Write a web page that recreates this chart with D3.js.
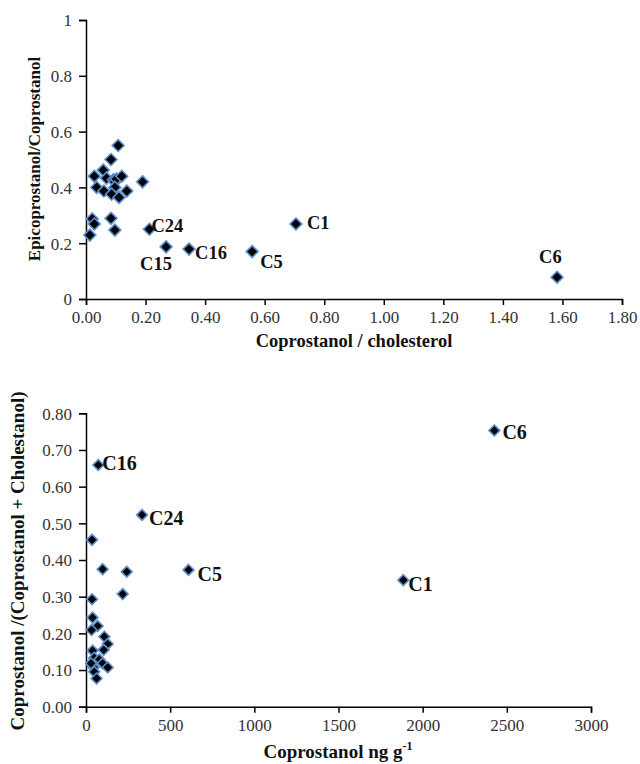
<!DOCTYPE html>
<html>
<head>
<meta charset="utf-8">
<script src="https://cdn.jsdelivr.net/npm/d3@7"></script>
<style>
  body { margin: 0; background: #fff; }
  svg { display: block; }
  svg text { font-family: "Liberation Serif", "Times New Roman", serif; }
  .tick text { font-size: 17px; fill: #333; }
  .tick line, .domain { stroke: #000; stroke-width: 1.5; }
</style>
</head>
<body>
<svg id="chart" width="640" height="764"></svg>
<script>
// top panel: coprostanol/cholesterol vs epicoprostanol/coprostanol
const topX = [0.108, 0.084, 0.058, 0.028, 0.069, 0.092, 0.097, 0.102, 0.12, 0.19, 0.036, 0.06, 0.097,
  0.086, 0.137, 0.111, 0.021, 0.028, 0.013, 0.084, 0.097, 0.213, 0.269, 0.346, 0.558, 0.705, 1.582];
const topY = [0.55, 0.50, 0.462, 0.44, 0.433, 0.427, 0.42, 0.43, 0.44, 0.42, 0.40, 0.387, 0.40,
  0.376, 0.387, 0.364, 0.287, 0.269, 0.229, 0.289, 0.247, 0.25, 0.187, 0.179, 0.17, 0.269, 0.078];
const topLabels = ['', '', '', '', '', '', '', '', '', '', '', '', '',
  '', '', '', '', '', '', '', '', 'C24', 'C15', 'C16', 'C5', 'C1', 'C6'];
const topXTicks = [0, 0.2, 0.4, 0.6, 0.8, 1.0, 1.2, 1.4, 1.6, 1.8];
const topYTicks = [0, 0.2, 0.4, 0.6, 0.8, 1];

// bottom panel: coprostanol ng/g vs coprostanol/(coprostanol + cholestanol)
const botX = [73, 333, 36, 99, 242, 609, 218, 36, 39, 69, 33, 109, 129, 105, 39, 49, 79, 99, 129,
  45, 49, 63, 30, 1885, 2426];
const botY = [0.659, 0.523, 0.455, 0.375, 0.368, 0.373, 0.307, 0.293, 0.243, 0.22, 0.209, 0.191,
  0.171, 0.155, 0.153, 0.133, 0.129, 0.118, 0.107, 0.107, 0.095, 0.077, 0.118, 0.345, 0.753];
const botLabels = ['C16', 'C24', '', '', '', 'C5', '', '', '', '', '', '', '', '', '', '', '', '',
  '', '', '', '', '', 'C1', 'C6'];
const botXTicks = [0, 500, 1000, 1500, 2000, 2500, 3000];
const botYTicks = [0, 0.1, 0.2, 0.3, 0.4, 0.5, 0.6, 0.7, 0.8];

// label offsets (px) relative to the marker
const topLabelPos = { C24: [2, -4], C15: [-26, 17], C16: [6, 3], C5: [8, 10], C1: [11, -1], C6: [-18, -21] };
const botLabelPos = { C16: [4, -2], C24: [7, 3], C5: [9, 4], C1: [5, 4], C6: [8, 1] };

const svg = d3.select('#chart');
const diamond = d3.symbol().type(d3.symbolDiamond2);

function panel(cfg) {
  const x = d3.scaleLinear().domain(cfg.xDomain).range([86, cfg.right]);
  const y = d3.scaleLinear().domain(cfg.yDomain).range([cfg.bottom, cfg.top]);
  const g = svg.append('g');

  g.append('g')
    .attr('transform', `translate(0,${cfg.bottom})`)
    .call(d3.axisBottom(x).tickValues(cfg.xTicks).tickFormat(cfg.xFmt).tickSizeOuter(0).tickSize(6))
    .call(a => a.attr('font-family', null))
    .call(a => a.selectAll('.tick text').attr('y', 12).attr('dy', '0.71em'));

  g.append('g')
    .attr('transform', 'translate(86,0)')
    .call(d3.axisLeft(y).tickValues(cfg.yTicks).tickFormat(cfg.yFmt).tickSizeOuter(0).tickSize(7))
    .call(a => a.attr('font-family', null))
    .call(a => a.selectAll('.tick text').attr('dy', '0.35em').attr('x', -14));

  const pts = cfg.xs.map((v, i) => ({ x: v, y: cfg.ys[i], label: cfg.labels[i] }));

  g.selectAll('path.pt')
    .data(pts)
    .join('path')
    .attr('class', 'pt')
    .attr('transform', d => `translate(${x(d.x)},${y(d.y)})`)
    .attr('d', diamond.size(cfg.markSize))
    .attr('fill', '#000')
    .attr('stroke', '#5b8fcf')
    .attr('stroke-width', 1.6);

  g.selectAll('text.lbl')
    .data(pts.filter(d => d.label))
    .join('text')
    .attr('class', 'lbl')
    .attr('x', d => x(d.x) + cfg.labelPos[d.label][0])
    .attr('y', d => y(d.y) + cfg.labelPos[d.label][1])
    .attr('dy', '0.35em')
    .attr('font-size', cfg.labelSize)
    .attr('font-weight', 'bold')
    .attr('fill', '#111')
    .text(d => d.label);

  return { x, y, g };
}

const p1 = panel({
  xDomain: [0, 1.8], yDomain: [0, 1], right: 622, top: 20, bottom: 299,
  xTicks: topXTicks, yTicks: topYTicks,
  xFmt: d3.format('.2f'), yFmt: d => d3.format('')(+d.toFixed(1)),
  xs: topX, ys: topY, labels: topLabels, labelPos: topLabelPos,
  markSize: 90, labelSize: 18.5
});

p1.g.append('text')
  .attr('x', 354).attr('y', 347)
  .attr('text-anchor', 'middle')
  .attr('font-size', 18.5).attr('font-weight', 'bold').attr('fill', '#111')
  .text('Coprostanol / cholesterol');

p1.g.append('text')
  .attr('transform', 'translate(40,159) rotate(-90)')
  .attr('text-anchor', 'middle')
  .attr('font-size', 17).attr('font-weight', 'bold').attr('fill', '#111')
  .text('Epicoprostanol/Coprostanol');

const p2 = panel({
  xDomain: [0, 3000], yDomain: [0, 0.8], right: 591, top: 413.3, bottom: 706.7,
  xTicks: botXTicks, yTicks: botYTicks,
  xFmt: d3.format('d'), yFmt: d3.format('.2f'),
  xs: botX, ys: botY, labels: botLabels, labelPos: botLabelPos,
  markSize: 75, labelSize: 20
});

const xt = p2.g.append('text')
  .attr('x', 338).attr('y', 758)
  .attr('text-anchor', 'middle')
  .attr('font-size', 19).attr('font-weight', 'bold').attr('fill', '#111');
xt.append('tspan').text('Coprostanol ng g');
xt.append('tspan').attr('dy', -8).attr('font-size', 12).text('-1');

p2.g.append('text')
  .attr('transform', 'translate(24,561) rotate(-90)')
  .attr('text-anchor', 'middle')
  .attr('font-size', 19).attr('font-weight', 'bold').attr('fill', '#111')
  .text('Coprostanol /(Coprostanol + Cholestanol)');
</script>
</body>
</html>
